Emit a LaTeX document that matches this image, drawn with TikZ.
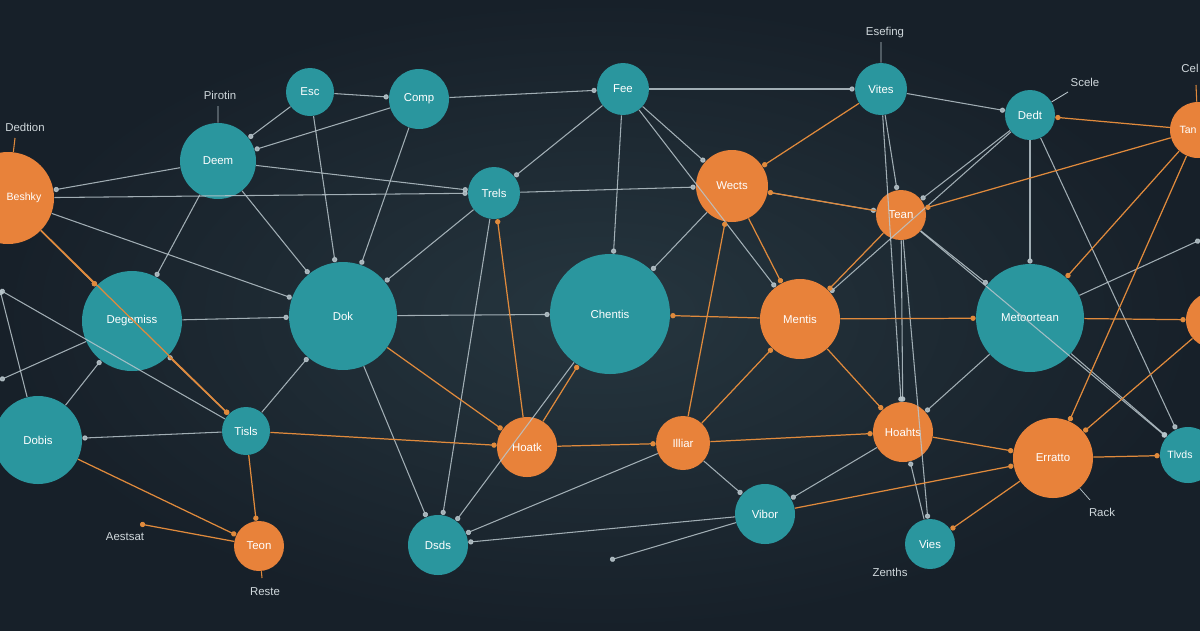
\documentclass[tikz,border=0pt]{standalone}
\usepackage{fontspec}
\setmainfont{Liberation Sans}
\usetikzlibrary{arrows.meta}
\definecolor{bgA}{HTML}{26363F}
\definecolor{bgB}{HTML}{172029}
\definecolor{tl}{HTML}{2A969E}
\definecolor{og}{HTML}{E8823A}
\definecolor{ln}{HTML}{B9C6CC}
\definecolor{ol}{HTML}{E08A3C}
\definecolor{tx}{HTML}{D0D8DC}
\begin{document}
\begin{tikzpicture}[x={(0.02cm,0)},y={(0,-0.02cm)},
  nd/.style={circle,inner sep=0pt,text=white,font=\fontsize{6.5}{8}\selectfont},
  tnode/.style={nd,fill=tl},
  onode/.style={nd,fill=og},
  ge/.style={draw=ln,line width=0.6pt,opacity=0.85,-{Circle[length=3pt]}},
  oe/.style={draw=ol,line width=0.7pt,-{Circle[length=3pt]}},
  fl/.style={text=tx,font=\fontsize{6.5}{8}\selectfont},
  il/.style={text=white,font=\fontsize{6}{7}\selectfont,inner sep=0pt}]
\shade[inner color=bgA,outer color=bgB] (0,0) rectangle (1200,630);
\useasboundingbox (0,0) rectangle (1200,630);
\foreach \n/\x/\y/\r/\s/\t in {
 a/310/92/24/tnode/Esc, b/419/99/30/tnode/Comp, c/623/89/26/tnode/Fee,
 d/881/89/26/tnode/Vites, e/1030/115/25/tnode/Dedt, f/1198/130/28/onode/{},
 g/218/161/38/tnode/Deem, h/494/193/26/tnode/Trels, i/732/186/36/onode/Wects,
 j/901/215/25/onode/Tean, k/8/198/46/onode/{}, l/132/321/50/tnode/Degemiss,
 m/343/316/54/tnode/Dok, n/610/314/60/tnode/Chentis, o/800/319/40/onode/Mentis,
 p/1030/318/54/tnode/Metoortean, q/1214/320/28/onode/{}, r/38/440/44/tnode/Dobis,
 s/246/431/24/tnode/Tisls, t/527/447/30/onode/Hoatk, u/683/443/27/onode/Illiar,
 v/903/432/30/onode/Hoahts, w/1053/458/40/onode/Erratto, x/1188/455/28/tnode/{},
 y/259/546/25/onode/Teon, z/438/545/30/tnode/Dsds, A/765/514/30/tnode/Vibor,
 B/930/544/25/tnode/Vies}
 {\node[\s,minimum size=2*\r*0.02cm] (\n) at (\x,\y) {\t};}
\node[il] (kl) at (24,198) {Beshky};
\node[il] (fl1) at (1188,130) {Tan};
\node[il] (xl) at (1180,455) {Tlvds};
% free labels
\node[fl] (L1) at (885,33) {Esefing};
\node[fl] (L2) at (1085,82) {Scele};
\node[fl] (L3) at (1190,68) {Cel};
\node[fl] (L4) at (220,95) {Pirotin};
\node[fl] (L5) at (25,127) {Dedtion};
\node[fl] (L6) at (125,537) {Aestsat};
\node[fl] (L7) at (265,592) {Reste};
\node[fl] (L8) at (1102,512) {Rack};
\node[fl] (L9) at (890,572) {Zenths};
\coordinate (c1) at (881,42); \coordinate (c2) at (1068,92);
\coordinate (c3) at (1196,85); \coordinate (c4) at (218,106);
\coordinate (c5) at (15,138); \coordinate (c6) at (140,524);
\coordinate (c7) at (262,578); \coordinate (c8) at (1090,500);
\coordinate (c9) at (0,290); \coordinate (c10) at (0,380);
\coordinate (c11) at (610,560); \coordinate (c12) at (1200,240);
\draw[draw=ln,line width=0.5pt] (d) -- (c1) (e) -- (c2) (g) -- (c4);
\draw[draw=ol,line width=0.6pt] (f) -- (c3) (k) -- (c5) (y) -- (c7);
\draw[draw=ln,line width=0.4pt] (w) -- (c8);
\draw[oe] (y) -- (c6);
% grey edges
\foreach \p/\q in {a/b,a/g,a/m,b/c,b/g,b/m,c/d,c/i,c/h,c/n,d/e,d/j,e/j,e/p,e/x,
 g/k,g/h,g/m,g/l,k/l,k/m,k/h,l/m,h/m,h/i,i/n,i/j,j/p,j/v,j/B,j/x,m/n,m/z,
 s/l,s/r,r/l,n/z,u/A,v/A,A/z,B/v,p/v,p/x,h/z,c/o,e/o,d/v,s/m,s/c9,l/c10,
 A/c11,p/c12,u/z,r/c9}
 {\draw[ge] (\p) -- (\q);}
% orange edges
\foreach \p/\q in {k/l,k/s,r/y,s/y,s/t,t/u,u/v,v/w,w/x,w/B,i/o,d/i,j/o,j/i,
 o/n,o/p,p/q,f/p,f/w,f/e,m/t,t/n,u/o,o/v,q/w,A/w,l/s,f/j,t/h,u/i}
 {\draw[oe] (\p) -- (\q);}
\end{tikzpicture}
\end{document}
